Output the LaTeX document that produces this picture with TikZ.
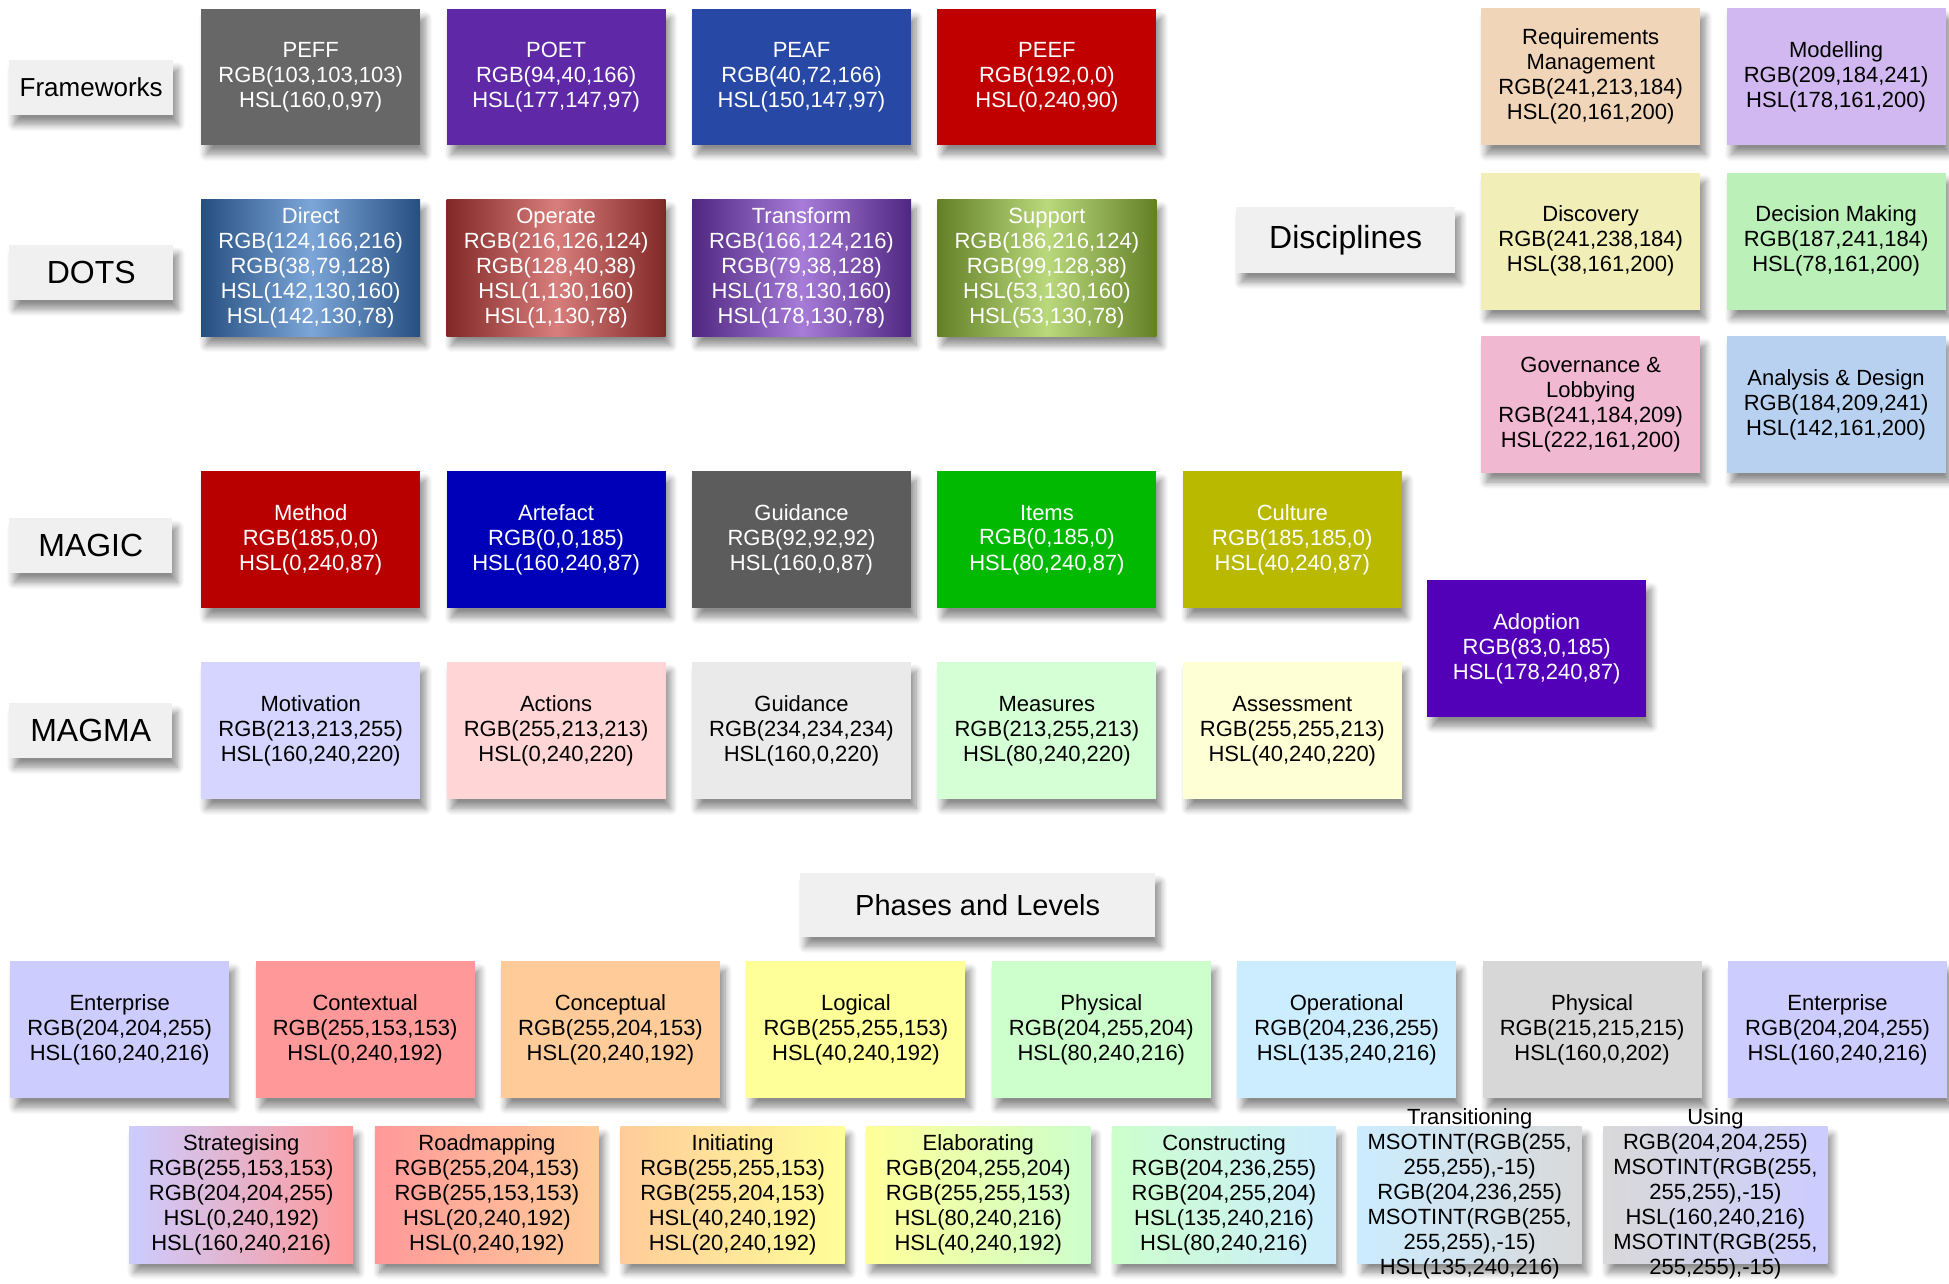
\documentclass[tikz,border=0pt]{standalone}
\usepackage{fontspec}
\setmainfont{Liberation Sans}
\usepackage{tikz}
\usetikzlibrary{positioning,shadows.blur}
% frameworks
\definecolor{peffgrey}{RGB}{103,103,103}
\definecolor{poetpurple}{RGB}{94,40,166}
\definecolor{peafblue}{RGB}{40,72,166}
\definecolor{peefred}{RGB}{192,0,0}
% dots
\definecolor{dirlight}{RGB}{124,166,216}
\definecolor{dirdark}{RGB}{38,79,128}
\definecolor{oplight}{RGB}{216,126,124}
\definecolor{opdark}{RGB}{128,40,38}
\definecolor{trlight}{RGB}{166,124,216}
\definecolor{trdark}{RGB}{79,38,128}
\definecolor{suplight}{RGB}{186,216,124}
\definecolor{supdark}{RGB}{99,128,38}
% magic
\definecolor{methred}{RGB}{185,0,0}
\definecolor{artblue}{RGB}{0,0,185}
\definecolor{guidgrey}{RGB}{92,92,92}
\definecolor{itemgreen}{RGB}{0,185,0}
\definecolor{cultolive}{RGB}{185,185,0}
\definecolor{adoptviolet}{RGB}{83,0,185}
% magma
\definecolor{motivfill}{RGB}{213,213,255}
\definecolor{actfill}{RGB}{255,213,213}
\definecolor{guidfill}{RGB}{234,234,234}
\definecolor{measfill}{RGB}{213,255,213}
\definecolor{assessfill}{RGB}{255,255,213}
% disciplines
\definecolor{reqfill}{RGB}{241,213,184}
\definecolor{modfill}{RGB}{209,184,241}
\definecolor{discfill}{RGB}{241,238,184}
\definecolor{decfill}{RGB}{187,241,184}
\definecolor{govfill}{RGB}{241,184,209}
\definecolor{anafill}{RGB}{184,209,241}
% phases and levels
\definecolor{entfill}{RGB}{204,204,255}
\definecolor{ctxfill}{RGB}{255,153,153}
\definecolor{cptfill}{RGB}{255,204,153}
\definecolor{logfill}{RGB}{255,255,153}
\definecolor{phyfill}{RGB}{204,255,204}
\definecolor{opsfill}{RGB}{204,236,255}
\definecolor{phgrey}{RGB}{215,215,215}
\definecolor{tintgrey}{RGB}{217,217,217}
\definecolor{tagfill}{RGB}{240,240,240}
\newcommand{\spill}[1]{\smash{\raisebox{-5pt}{\begin{tabular}{@{}c@{}}#1\end{tabular}}}}

\begin{document}
\begin{tikzpicture}[x=1pt,y=-1pt,
  font=\fontsize{22}{25}\selectfont,
  node distance=26pt,
  soft/.style={blur shadow={shadow xshift=5pt, shadow yshift=-9pt, shadow blur radius=7pt, shadow blur steps=8, shadow opacity=45}},
  sbox/.style={soft, rectangle, minimum width=219pt, minimum height=137pt, inner sep=2pt, align=center, anchor=north west},
  dark/.style={sbox, text=white},
  light/.style={sbox, text=black},
  lvl/.style={light, minimum width=224pt},
  tag/.style={soft, rectangle, fill=tagfill, text=black, inner sep=0pt, anchor=north west, font=\fontsize{32}{38}\selectfont}]
\useasboundingbox (0,0) rectangle (1949,1283);

% row labels
\node[tag, minimum width=164pt, minimum height=55pt, font=\fontsize{26}{30}\selectfont] (tfw) at (9,60) {Frameworks};
\node[tag, minimum width=164pt, minimum height=55pt] (tdots) at (9,245) {DOTS};
\node[tag, minimum width=163pt, minimum height=55pt] (tmagic) at (9,518) {MAGIC};
\node[tag, minimum width=163pt, minimum height=55pt] (tmagma) at (9,703) {MAGMA};
\node[tag, minimum width=219pt, minimum height=66pt] (tdisc) at (1236,207) {Disciplines};
\node[tag, minimum width=355pt, minimum height=64pt, font=\fontsize{29}{34}\selectfont] (tphase) at (800,873) {Phases and Levels};

% frameworks
\node[dark, fill=peffgrey, minimum height=136pt] (peff) at (201,9) {PEFF\\RGB(103,103,103)\\HSL(160,0,97)};
\node[dark, fill=poetpurple, minimum height=136pt, right=of peff] (poet) {POET\\RGB(94,40,166)\\HSL(177,147,97)};
\node[dark, fill=peafblue, minimum height=136pt, right=of poet] (peaf) {PEAF\\RGB(40,72,166)\\HSL(150,147,97)};
\node[dark, fill=peefred, minimum height=136pt, right=of peaf] (peef) {PEEF\\RGB(192,0,0)\\HSL(0,240,90)};

% dots
\node[dark, left color=dirdark, right color=dirdark, middle color=dirlight] (direct) at (201,199)
  {Direct\\RGB(124,166,216)\\RGB(38,79,128)\\HSL(142,130,160)\\HSL(142,130,78)};
\node[dark, left color=opdark, right color=opdark, middle color=oplight, right=of direct] (operate)
  {Operate\\RGB(216,126,124)\\RGB(128,40,38)\\HSL(1,130,160)\\HSL(1,130,78)};
\node[dark, left color=trdark, right color=trdark, middle color=trlight, right=of operate] (transform)
  {Transform\\RGB(166,124,216)\\RGB(79,38,128)\\HSL(178,130,160)\\HSL(178,130,78)};
\node[dark, left color=supdark, right color=supdark, middle color=suplight, right=of transform] (support)
  {Support\\RGB(186,216,124)\\RGB(99,128,38)\\HSL(53,130,160)\\HSL(53,130,78)};

% magic
\node[dark, fill=methred] (method) at (201,471) {Method\\RGB(185,0,0)\\HSL(0,240,87)};
\node[dark, fill=artblue, right=of method] (artefact) {Artefact\\RGB(0,0,185)\\HSL(160,240,87)};
\node[dark, fill=guidgrey, right=of artefact] (guidance) {Guidance\\RGB(92,92,92)\\HSL(160,0,87)};
\node[dark, fill=itemgreen, right=of guidance] (items) {Items\\RGB(0,185,0)\\HSL(80,240,87)};
\node[dark, fill=cultolive, right=of items] (culture) {Culture\\RGB(185,185,0)\\HSL(40,240,87)};
\node[dark, fill=adoptviolet] (adoption) at (1427,580) {Adoption\\RGB(83,0,185)\\HSL(178,240,87)};

% magma
\node[light, fill=motivfill] (motiv) at (201,662) {Motivation\\RGB(213,213,255)\\HSL(160,240,220)};
\node[light, fill=actfill, right=of motiv] (actions) {Actions\\RGB(255,213,213)\\HSL(0,240,220)};
\node[light, fill=guidfill, right=of actions] (mguid) {Guidance\\RGB(234,234,234)\\HSL(160,0,220)};
\node[light, fill=measfill, right=of mguid] (measures) {Measures\\RGB(213,255,213)\\HSL(80,240,220)};
\node[light, fill=assessfill, right=of measures] (assess) {Assessment\\RGB(255,255,213)\\HSL(40,240,220)};

% disciplines
\node[light, fill=reqfill] (reqm) at (1481,8) {Requirements\\Management\\RGB(241,213,184)\\HSL(20,161,200)};
\node[light, fill=modfill, right=of reqm] (model) {Modelling\\RGB(209,184,241)\\HSL(178,161,200)};
\node[light, fill=discfill, below=27pt of reqm] (discov) {Discovery\\RGB(241,238,184)\\HSL(38,161,200)};
\node[light, fill=decfill, right=of discov] (decide) {Decision Making\\RGB(187,241,184)\\HSL(78,161,200)};
\node[light, fill=govfill, below=of discov] (govern) {Governance \&\\Lobbying\\RGB(241,184,209)\\HSL(222,161,200)};
\node[light, fill=anafill, right=of govern] (analysis) {Analysis \& Design\\RGB(184,209,241)\\HSL(142,161,200)};

% phases
\node[light, fill=entfill] (enterprise) at (10,961) {Enterprise\\RGB(204,204,255)\\HSL(160,240,216)};
\node[light, fill=ctxfill, right=of enterprise] (contextual) {Contextual\\RGB(255,153,153)\\HSL(0,240,192)};
\node[light, fill=cptfill, right=of contextual] (conceptual) {Conceptual\\RGB(255,204,153)\\HSL(20,240,192)};
\node[light, fill=logfill, right=of conceptual] (logical) {Logical\\RGB(255,255,153)\\HSL(40,240,192)};
\node[light, fill=phyfill, right=of logical] (physical) {Physical\\RGB(204,255,204)\\HSL(80,240,216)};
\node[light, fill=opsfill, right=of physical] (operational) {Operational\\RGB(204,236,255)\\HSL(135,240,216)};
\node[light, fill=phgrey, right=of operational] (physgrey) {Physical\\RGB(215,215,215)\\HSL(160,0,202)};
\node[light, fill=entfill, right=of physgrey] (enterprise2) {Enterprise\\RGB(204,204,255)\\HSL(160,240,216)};

% levels
\node[lvl, left color=entfill, right color=ctxfill] (strateg) at (129,1126)
  {Strategising\\RGB(255,153,153)\\RGB(204,204,255)\\HSL(0,240,192)\\HSL(160,240,216)};
\node[lvl, left color=ctxfill, right color=cptfill, right=21.3pt of strateg] (roadmap)
  {Roadmapping\\RGB(255,204,153)\\RGB(255,153,153)\\HSL(20,240,192)\\HSL(0,240,192)};
\node[lvl, left color=cptfill, right color=logfill, right=21.3pt of roadmap] (initiat)
  {Initiating\\RGB(255,255,153)\\RGB(255,204,153)\\HSL(40,240,192)\\HSL(20,240,192)};
\node[lvl, left color=logfill, right color=phyfill, right=21.3pt of initiat] (elabor)
  {Elaborating\\RGB(204,255,204)\\RGB(255,255,153)\\HSL(80,240,216)\\HSL(40,240,192)};
\node[lvl, left color=phyfill, right color=opsfill, right=21.3pt of elabor] (construct)
  {Constructing\\RGB(204,236,255)\\RGB(204,255,204)\\HSL(135,240,216)\\HSL(80,240,216)};
\node[lvl, left color=opsfill, right color=tintgrey, right=21.3pt of construct] (transit)
  {\spill{Transitioning\\MSOTINT(RGB(255,\\255,255),-15)\\RGB(204,236,255)\\MSOTINT(RGB(255,\\255,255),-15)\\HSL(135,240,216)}};
\node[lvl, left color=tintgrey, right color=entfill, right=21.3pt of transit] (using)
  {\spill{Using\\RGB(204,204,255)\\MSOTINT(RGB(255,\\255,255),-15)\\HSL(160,240,216)\\MSOTINT(RGB(255,\\255,255),-15)}};
\end{tikzpicture}
\end{document}
